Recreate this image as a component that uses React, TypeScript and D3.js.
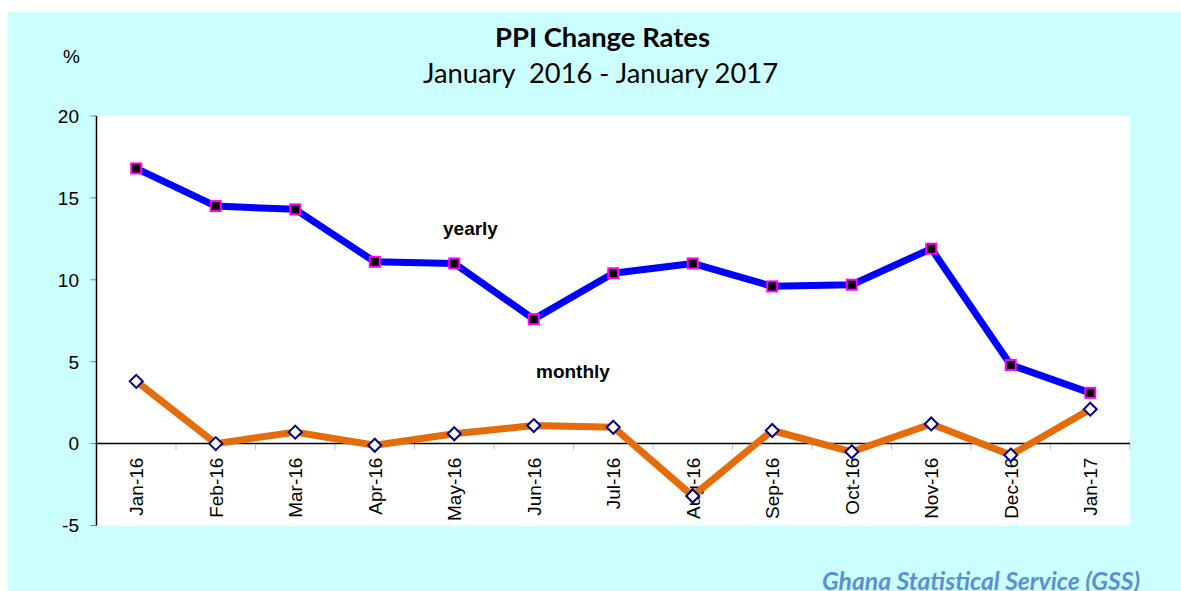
import React from "react";
import * as d3 from "d3";

const categories = ["Jan-16","Feb-16","Mar-16","Apr-16","May-16","Jun-16","Jul-16","Aug-16","Sep-16","Oct-16","Nov-16","Dec-16","Jan-17"];
const yearly = [16.8, 14.5, 14.3, 11.1, 11.0, 7.6, 10.4, 11.0, 9.6, 9.7, 11.9, 4.8, 3.1];
const monthly = [3.8, 0.0, 0.7, -0.1, 0.6, 1.1, 1.0, -3.2, 0.8, -0.5, 1.2, -0.7, 2.1];
const yTicks = [-5, 0, 5, 10, 15, 20];

const W = 1181, H = 591;
const plot = { left: 96.5, right: 1130, top: 116, bottom: 525.5 };

export default function App() {
  const x = d3.scaleBand<string>().domain(categories).range([plot.left, plot.right]);
  const y = d3.scaleLinear().domain([-5, 20]).range([plot.bottom, plot.top]);
  const cx = (c: string) => (x(c) as number) + x.bandwidth() / 2;
  const line = d3.line<number>().x((_, i) => cx(categories[i])).y(d => y(d));
  const y0 = y(0);
  const arial = "Liberation Sans, Arial, sans-serif";
  const cal = "Lato, 'Open Sans', sans-serif";
  const dsz = 6.5;
  return (
    <svg width={W} height={H} style={{ position: "absolute", left: 0, top: 0, display: "block" }}>
      <rect x={8} y={12} width={W - 8} height={H - 12} fill="#CCFFFF" />
      <rect x={plot.left} y={plot.top} width={plot.right - plot.left} height={plot.bottom - plot.top} fill="#ffffff" />
      {/* y ticks */}
      {yTicks.map(t => (
        <g key={t}>
          <line x1={plot.left - 6} x2={plot.left} y1={y(t)} y2={y(t)} stroke="#808080" strokeWidth={1} />
          <text x={79} y={y(t)} dy="0.36em" textAnchor="end" fontFamily={arial} fontSize={19} fill="#000">{t}</text>
        </g>
      ))}
      {/* x ticks */}
      {categories.map((c, i) => (
        <line key={"t" + i} x1={(x(c) as number) + x.bandwidth()} x2={(x(c) as number) + x.bandwidth()} y1={y0} y2={y0 + 6} stroke="#c0c0c0" strokeWidth={1} />
      ))}
      <line x1={plot.left} x2={plot.left} y1={plot.top} y2={plot.bottom} stroke="#000" strokeWidth={1.5} />
      <line x1={plot.left} x2={plot.right} y1={y0} y2={y0} stroke="#000" strokeWidth={1.5} />
      {/* x labels */}
      {categories.map(c => (
        <text key={"l" + c} transform={`translate(${cx(c) + 7},${y0 + 14}) rotate(-90)`} textAnchor="end" fontFamily={arial} fontSize={19} fill="#000">{c}</text>
      ))}
      {/* yearly */}
      <path d={line(yearly) || ""} fill="none" stroke="#0000FF" strokeWidth={7} strokeLinejoin="round" />
      {yearly.map((v, i) => (
        <rect key={"y" + i} x={cx(categories[i]) - 5} y={y(v) - 5} width={10} height={10} fill="#000" stroke="#FF00FF" strokeWidth={2} />
      ))}
      {/* monthly */}
      <path d={line(monthly) || ""} fill="none" stroke="#E46C0A" strokeWidth={7} strokeLinejoin="round" />
      {monthly.map((v, i) => {
        const px = cx(categories[i]), py = y(v);
        return <path key={"m" + i} d={`M${px},${py - dsz}L${px + dsz},${py}L${px},${py + dsz}L${px - dsz},${py}Z`} fill="#fff" stroke="#000080" strokeWidth={2} />;
      })}
      <text x={443} y={235} fontFamily={arial} fontWeight="bold" fontSize={19} fill="#000">yearly</text>
      <text x={536} y={378} fontFamily={arial} fontWeight="bold" fontSize={19} fill="#000">monthly</text>
      <text x={63} y={63} fontFamily={arial} fontSize={19} fill="#000">%</text>
      <text x={495} y={47} textLength={215} lengthAdjust="spacingAndGlyphs" fontFamily={cal} fontWeight="bold" fontSize={26} fill="#000">PPI Change Rates</text>
      <text x={423} y={83} textLength={355} lengthAdjust="spacingAndGlyphs" fontFamily={cal} fontSize={26} fill="#000" style={{ whiteSpace: "pre" }}>January  2016 - January 2017</text>
      <text x={822} y={590} textLength={318} lengthAdjust="spacingAndGlyphs" fontFamily={cal} fontWeight="bold" fontStyle="italic" fontSize={25} fill="#5B8FD6">Ghana Statistical Service (GSS)</text>
    </svg>
  );
}
